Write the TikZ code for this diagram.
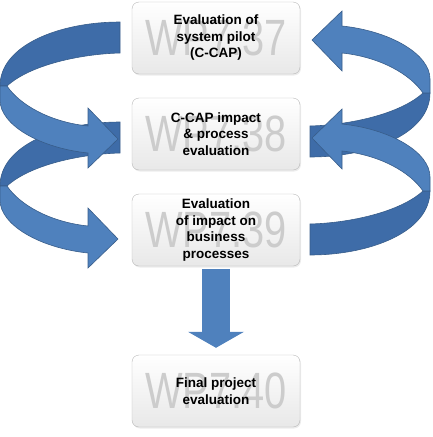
\documentclass[tikz,border=0pt]{standalone}
\usepackage{fontspec}
\setsansfont{Liberation Sans}
\usepackage{xcolor}
\usetikzlibrary{arrows.meta, calc, shadows}
\definecolor{ribbonlight}{RGB}{79,129,189}
\definecolor{ribbondark}{RGB}{62,108,168}
\definecolor{ribbonedge}{RGB}{56,93,138}
\tikzset{
  wpbox/.style={rectangle, draw=black!28, rounded corners=7pt, top color=white, bottom color=black!9, minimum width=168pt, minimum height=72pt, align=center, font=\sffamily\bfseries\fontsize{13.5}{16.5}\selectfont, drop shadow={opacity=0.15, shadow xshift=1pt, shadow yshift=-1.5pt}, path picture={\node[wpmark] at (path picture bounding box.center) {WP7.#1};}},
  wpmark/.style={font=\sffamily\mdseries\fontsize{51}{51}\selectfont, text=black!20, xscale=0.78, transform shape},
  backband/.style={fill=ribbondark, draw=ribbonedge, line width=0.6pt},
  frontband/.style={fill=ribbonlight, draw=ribbonedge, line width=0.6pt},
  fatarrow/.style={draw=ribbonlight, line width=28pt, -{Triangle[width=56pt, length=16pt, line width=0pt]}},
  ribbon back/.pic={
    \path[backband] (120,22) .. controls (60,22) and (0,45) .. (0,86) -- (7,86) .. controls (30,65) and (80,54) .. (120,53) -- cycle;
  },
  ribbon front/.pic={
    \path[frontband] (0,86) -- (7,86) .. controls (20,105) and (50,122) .. (88,126) -- (88,108) -- (118,139) -- (88,168) -- (88,153) .. controls (40,148) and (0,125) .. (0,100) -- cycle;
  },
}

\begin{document}
\begin{tikzpicture}[x=1pt, y=-1pt]
  \useasboundingbox (0,0) rectangle (433,437);

  % back halves of the ribbons
  \foreach \dy in {0,100} { \pic at (0,\dy) {ribbon back}; }
  \foreach \dy in {0,-98} { \pic[rotate=180] at (430,277+\dy) {ribbon back}; }

  % front halves with the heads
  \foreach \dy in {0,100} { \pic at (0,\dy) {ribbon front}; }
  \foreach \dy in {0,-98} { \pic[rotate=180] at (430,277+\dy) {ribbon front}; }

  % work packages
  \node[wpbox=37] (e1) at (216,38) {Evaluation of\\system pilot\\(C-CAP)};
  \node[wpbox=38] (e2) at (216,134) {C-CAP impact\\\& process\\evaluation};
  \node[wpbox=39] (e3) at (216,230) {Evaluation\\of impact on\\business\\processes};
  \node[wpbox=40] (e4) at (216,391) {Final project\\evaluation};

  \draw[fatarrow, shorten <=3pt, shorten >=7pt] (e3) -- (e4);
\end{tikzpicture}
\end{document}
